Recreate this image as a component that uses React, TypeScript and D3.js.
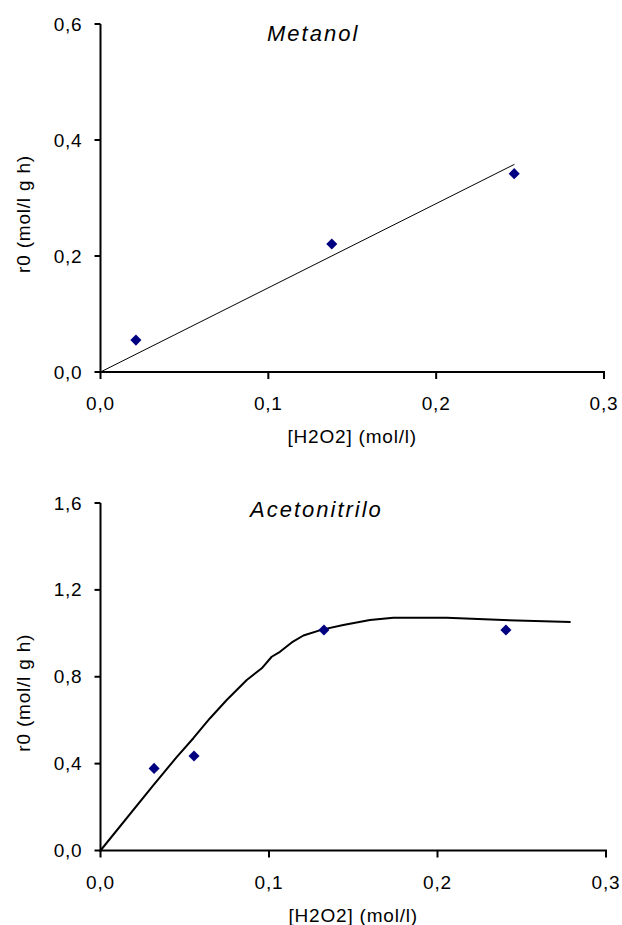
import React from "react";
import * as d3 from "d3";

// ---- Data ----
const xTicks = [0, 0.1, 0.2, 0.3];
const metYTicks = [0, 0.2, 0.4, 0.6];
const aceYTicks = [0, 0.4, 0.8, 1.2, 1.6];

const metX = [0.0211, 0.1378, 0.2465];
const metY = [0.055, 0.2207, 0.342];
const metFitX = [0, 0.2466];
const metFitY = [0, 0.358];

const aceX = [0.0318, 0.0555, 0.1326, 0.2406];
const aceY = [0.378, 0.435, 1.015, 1.015];
const aceFitX = [0, 0.0313, 0.0452, 0.0551, 0.065, 0.0749, 0.0868, 0.0957, 0.1016, 0.1065, 0.1135, 0.1204, 0.1315, 0.1441, 0.1599, 0.1738, 0.2055, 0.239, 0.279];
const aceFitY = [0, 0.3, 0.43, 0.517, 0.609, 0.693, 0.785, 0.839, 0.892, 0.915, 0.958, 0.99, 1.017, 1.038, 1.061, 1.072, 1.072, 1.061, 1.052];

const xTitle = "[H2O2] (mol/l)";
const yTitle = "r0 (mol/l g h)";

const locale = d3.formatLocale({ decimal: ",", thousands: ".", grouping: [3], currency: ["", ""] });
const fmt = locale.format(".1f");

const FONT = "'Liberation Sans', Arial, sans-serif";

type PanelProps = {
  title: string;
  titleX: number;
  titleY: number;
  left: number;
  right: number;
  top: number;
  bottom: number;
  yMax: number;
  yTicks: number[];
  px: number[];
  py: number[];
  fx: number[];
  fy: number[];
  fitWidth: number;
};

function Panel(p: PanelProps) {
  const x = d3.scaleLinear().domain([0, 0.3]).range([p.left, p.right]);
  const y = d3.scaleLinear().domain([0, p.yMax]).range([p.bottom, p.top]);
  const lineData = p.fx.map((v, i) => [v, p.fy[i]] as [number, number]);
  const line = d3.line<[number, number]>().x((d) => x(d[0])).y((d) => y(d[1]));
  const diamond = d3.symbol().type(d3.symbolDiamond2).size(78)();
  const midY = (p.top + p.bottom) / 2 + 16;
  const midX = (p.left + p.right) / 2;
  return (
    <g>
      <text x={p.titleX} y={p.titleY} fontFamily={FONT} fontSize={22} fontStyle="italic" letterSpacing={2} fill="#000">
        {p.title}
      </text>
      <path d={line(lineData) || ""} fill="none" stroke="#000" strokeWidth={p.fitWidth} strokeLinejoin="round" />
      <line x1={p.left} x2={p.left} y1={p.top} y2={p.bottom + 1} stroke="#000" strokeWidth={2} />
      <line x1={p.left - 1} x2={p.right + 1} y1={p.bottom} y2={p.bottom} stroke="#000" strokeWidth={2} />
      {p.yTicks.map((t) => (
        <g key={"y" + t}>
          <line x1={p.left - 6} x2={p.left} y1={y(t)} y2={y(t)} stroke="#000" strokeWidth={2} />
          <text x={p.left - 18} y={y(t) + 6.5} textAnchor="end" fontFamily={FONT} fontSize={19} letterSpacing={0.8} fill="#000">
            {fmt(t)}
          </text>
        </g>
      ))}
      {xTicks.map((t) => (
        <g key={"x" + t}>
          <line x1={x(t)} x2={x(t)} y1={p.bottom} y2={p.bottom + 7} stroke="#000" strokeWidth={2} />
          <text x={x(t)} y={p.bottom + 38} textAnchor="middle" fontFamily={FONT} fontSize={19} letterSpacing={0.8} fill="#000">
            {fmt(t)}
          </text>
        </g>
      ))}
      <text x={midX} y={p.bottom + 71} textAnchor="middle" fontFamily={FONT} fontSize={19} letterSpacing={0.8} fill="#000">
        {xTitle}
      </text>
      <text
        transform={`translate(30, ${midY}) rotate(-90)`}
        textAnchor="middle"
        fontFamily={FONT}
        fontSize={19}
        letterSpacing={0.8}
        fill="#000"
      >
        {yTitle}
      </text>
      {p.px.map((v, i) => (
        <path key={"p" + i} d={diamond || ""} transform={`translate(${x(v)}, ${y(p.py[i])})`} fill="#000080" />
      ))}
    </g>
  );
}

export default function App() {
  return (
    <svg width={622} height={925} style={{ position: "absolute", left: 0, top: 0, background: "#fff" }}>
      <rect width={622} height={925} fill="#fff" />
      <Panel
        title="Metanol"
        titleX={267}
        titleY={41}
        left={100.5}
        right={604}
        top={24}
        bottom={372}
        yMax={0.6}
        yTicks={metYTicks}
        px={metX}
        py={metY}
        fx={metFitX}
        fy={metFitY}
        fitWidth={1}
      />
      <Panel
        title="Acetonitrilo"
        titleX={250}
        titleY={517}
        left={100.5}
        right={606}
        top={503}
        bottom={850.5}
        yMax={1.6}
        yTicks={aceYTicks}
        px={aceX}
        py={aceY}
        fx={aceFitX}
        fy={aceFitY}
        fitWidth={2}
      />
    </svg>
  );
}
